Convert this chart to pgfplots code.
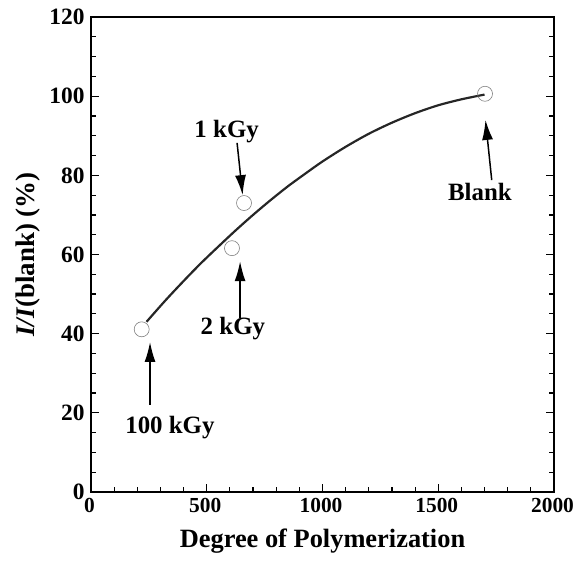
\documentclass[border=0pt]{standalone}
\usepackage{fontspec}
\setmainfont{Liberation Serif}
\usepackage{pgfplots}
\pgfplotsset{compat=1.18}
\usetikzlibrary{arrows.meta}

% fitted curve
\pgfplotstableread{
x y
240 43.0
320 48.3
400 53.3
475 57.8
550 62.0
625 66.1
700 70.0
775 73.7
850 77.2
925 80.4
1000 83.5
1100 87.2
1200 90.5
1300 93.3
1400 95.7
1500 97.7
1600 99.2
1700 100.4
}\curve

\begin{document}
\begin{tikzpicture}[font=\fontsize{25}{29}\selectfont\bfseries]
\begin{axis}[
    scale only axis,
    width=463bp, height=475bp,
    xmin=0, xmax=2000, ymin=0, ymax=120,
    xtick={0,500,...,2000}, ytick={0,20,...,120},
    minor x tick num=4, minor y tick num=3,
    xtick pos=bottom, ytick pos=both,
    tick align=inside,
    major tick length=8bp, minor tick length=5bp,
    every tick/.style={black, line width=1.2pt},
    axis line style={line width=1.5pt},
    /pgf/number format/assume math mode=true,
    /pgf/number format/set thousands separator={},
    xticklabel style={yshift=-3bp, xshift=-1.5bp, font=\fontsize{21.5}{24}\selectfont\bfseries},
    yticklabel style={xshift=-3bp, font=\fontsize{23.5}{26}\selectfont\bfseries},
    xlabel={Degree of Polymerization},
    ylabel={\textit{I/I}(blank) (\%)},
    xlabel style={yshift=-9bp, font=\fontsize{26.5}{30}\selectfont\bfseries},
    ylabel style={yshift=2bp, font=\fontsize{27}{30}\selectfont\bfseries},
]
\addplot[black!85, line width=2.2pt, smooth] table {\curve};
\addplot[only marks, mark=o, mark size=7.5bp, mark options={gray, line width=0.6pt, fill=white}]
    coordinates {(219,41.1) (661,73.0) (609,61.6) (1702,100.6)};

\draw[-{Latex[length=20bp,width=11bp]}, line width=1.5pt] (axis cs:631,88.2) -- (axis cs:655,75.0);
\node at (axis cs:586,91.0) {1 kGy};
\draw[-{Latex[length=20bp,width=11bp]}, line width=1.5pt] (axis cs:1731,78.8) -- (axis cs:1704,94.0);
\node at (axis cs:1680,75.9) {Blank};
\draw[-{Latex[length=20bp,width=11bp]}, line width=1.5pt] (axis cs:644,44.0) -- (axis cs:644,58.3);
\node at (axis cs:613,41.4) {2 kGy};
\draw[-{Latex[length=20bp,width=11bp]}, line width=1.5pt] (axis cs:255,22.0) -- (axis cs:255,37.9);
\node at (axis cs:341,16.2) {100 kGy};

\coordinate (sw) at (rel axis cs:0,0);
\coordinate (ne) at (rel axis cs:1,1);
\end{axis}
\pgfresetboundingbox
\path[use as bounding box] (sw) ++(-91bp,-73bp) rectangle ([shift={(20bp,17bp)}]ne);
\end{tikzpicture}
\end{document}
